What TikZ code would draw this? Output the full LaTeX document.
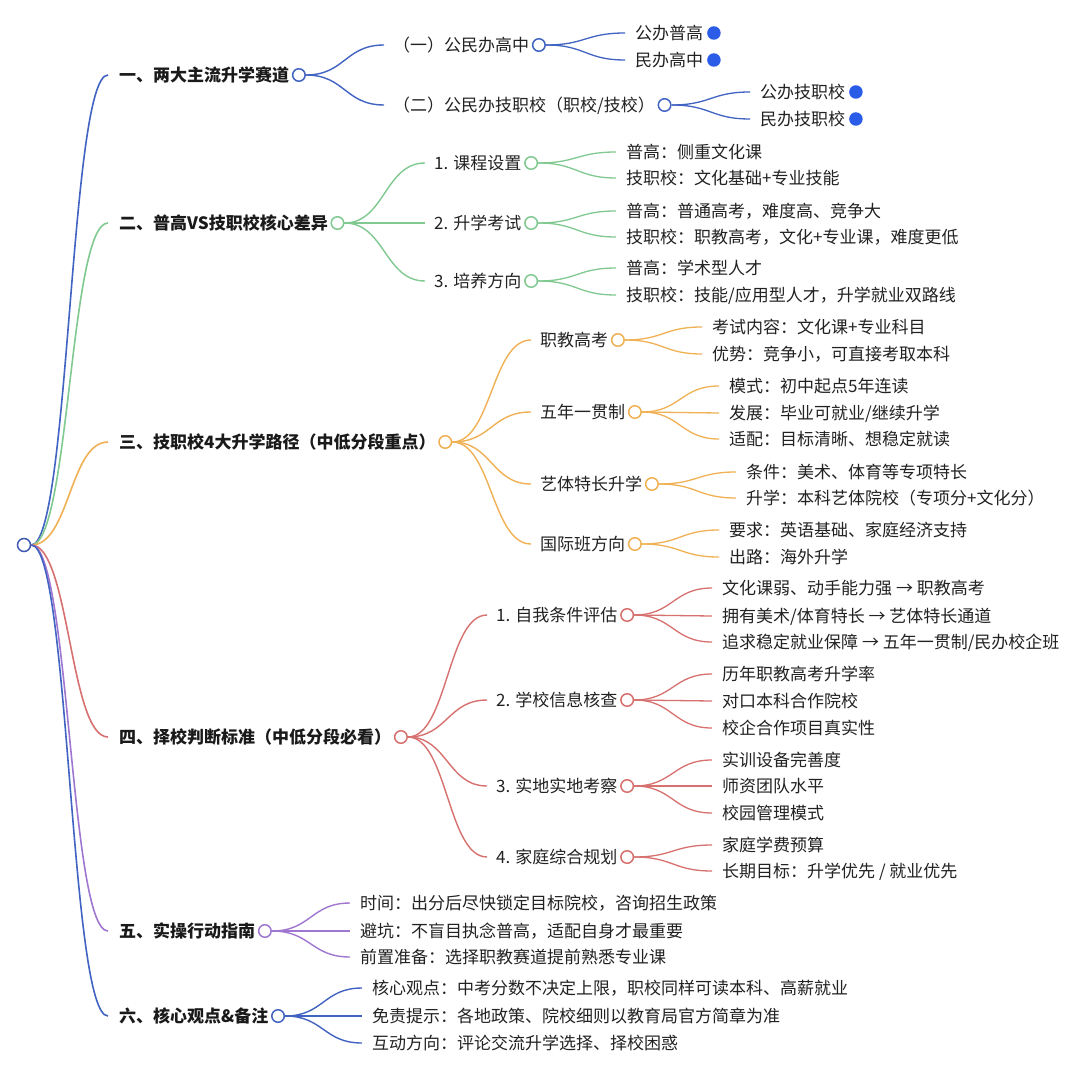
\documentclass[tikz,border=0pt]{standalone}
\usepackage{fontspec}
\setmainfont{Noto Sans CJK SC}
\usetikzlibrary{calc}
\definecolor{cblue}{HTML}{4163C2}
\definecolor{crootc}{HTML}{3F59B3}
\definecolor{cgreen}{HTML}{80C990}
\definecolor{corange}{HTML}{F0B155}
\definecolor{cred}{HTML}{D7716F}
\definecolor{cpurple}{HTML}{A077D0}
\definecolor{cdot}{HTML}{2B5CE8}
\definecolor{txtc}{HTML}{222222}
\definecolor{boldc}{HTML}{1A1A1A}
\pgfdeclarelayer{bg}
\pgfsetlayers{bg,main}
\tikzset{
  txt/.style={anchor=west, inner sep=0pt, text height=15pt, text depth=2pt,
    font=\fontsize{17pt}{20pt}\selectfont, text=txtc},
  ltxt/.style={anchor=west, inner sep=0pt, text height=15pt, text depth=2pt,
    font=\fontsize{17pt}{20pt}\selectfont\bfseries, text=boldc},
  hc/.style={circle, draw=#1, fill=white, line width=1.5pt, minimum size=12.5pt, inner sep=0pt},
  dotc/.style={circle, fill=cdot, minimum size=13.5pt, inner sep=0pt},
  lk/.style={draw=#1, line width=1.4pt},
  lk0/.style={draw=#1, line width=1.6pt},
  lk2/.style={draw=#1, line width=1.3pt},
}
\newcommand\mlink[3]{\begin{pgfonlayer}{bg}\draw[#1] let \p1=(#2), \p2=(#3) in (\p1) .. controls ({(\x1+\x2)/2},\y1) and ({(\x1+\x2)/2},\y2) .. (\p2);\end{pgfonlayer}}
\begin{document}
\begin{tikzpicture}[x=1pt,y=-1pt]
\begin{pgfonlayer}{bg}
\fill[white] (0,0) rectangle (1080,1083);
\end{pgfonlayer}
\useasboundingbox (0,0) rectangle (1080,1083);

\node[hc=crootc, minimum size=13pt] (root) at (24,545) {};

% ---------- branch 1 ----------
\node[ltxt] (a) at (119,75) {一、两大主流升学赛道};
\node[hc=cblue] (ac) at ([xshift=9.5pt]a.east) {};
\node[txt] (a1) at (393,45) {（一）公民办高中};
\node[hc=cblue] (a1c) at ([xshift=9.5pt]a1.east) {};
\node[txt] (a2) at (393,105) {（二）公民办技职校（职校/技校）};
\node[hc=cblue] (a2c) at ([xshift=9.5pt]a2.east) {};
\node[txt] (a11) at (635,33) {公办普高};
\node[dotc] (a11d) at ([xshift=10.5pt]a11.east) {};
\node[txt] (a12) at (635,60) {民办高中};
\node[dotc] (a12d) at ([xshift=10.5pt]a12.east) {};
\node[txt] (a21) at (760,92) {公办技职校};
\node[dotc] (a21d) at ([xshift=10.5pt]a21.east) {};
\node[txt] (a22) at (760,119) {民办技职校};
\node[dotc] (a22d) at ([xshift=10.5pt]a22.east) {};
\mlink{lk0=cblue}{root.east}{[xshift=-11pt]a.west}
\mlink{lk=cblue}{ac.east}{[xshift=-9pt]a1.west}
\mlink{lk=cblue}{ac.east}{[xshift=-9pt]a2.west}
\mlink{lk2=cblue}{a1c.east}{[xshift=-10pt]a11.west}
\mlink{lk2=cblue}{a1c.east}{[xshift=-10pt]a12.west}
\mlink{lk2=cblue}{a2c.east}{[xshift=-10pt]a21.west}
\mlink{lk2=cblue}{a2c.east}{[xshift=-10pt]a22.west}

% ---------- branch 2 ----------
\node[ltxt] (b) at (119,223) {二、普高VS技职校核心差异};
\node[hc=cgreen] (bc) at ([xshift=9.5pt]b.east) {};
\node[txt] (b1) at (434,163) {1. 课程设置};
\node[hc=cgreen] (b1c) at ([xshift=9.5pt]b1.east) {};
\node[txt] (b2) at (434,223) {2. 升学考试};
\node[hc=cgreen] (b2c) at ([xshift=9.5pt]b2.east) {};
\node[txt] (b3) at (434,281) {3. 培养方向};
\node[hc=cgreen] (b3c) at ([xshift=9.5pt]b3.east) {};
\node[txt] (b11) at (626,152) {普高：侧重文化课};
\node[txt] (b12) at (626,178) {技职校：文化基础+专业技能};
\node[txt] (b21) at (626,211) {普高：普通高考，难度高、竞争大};
\node[txt] (b22) at (626,237) {技职校：职教高考，文化+专业课，难度更低};
\node[txt] (b31) at (626,268) {普高：学术型人才};
\node[txt] (b32) at (626,295) {技职校：技能/应用型人才，升学就业双路线};
\mlink{lk0=cgreen}{root.east}{[xshift=-11pt]b.west}
\mlink{lk=cgreen}{bc.east}{[xshift=-9pt]b1.west}
\mlink{lk=cgreen}{bc.east}{[xshift=-9pt]b2.west}
\mlink{lk=cgreen}{bc.east}{[xshift=-9pt]b3.west}
\mlink{lk2=cgreen}{b1c.east}{[xshift=-10pt]b11.west}
\mlink{lk2=cgreen}{b1c.east}{[xshift=-10pt]b12.west}
\mlink{lk2=cgreen}{b2c.east}{[xshift=-10pt]b21.west}
\mlink{lk2=cgreen}{b2c.east}{[xshift=-10pt]b22.west}
\mlink{lk2=cgreen}{b3c.east}{[xshift=-10pt]b31.west}
\mlink{lk2=cgreen}{b3c.east}{[xshift=-10pt]b32.west}

% ---------- branch 3 ----------
\node[ltxt] (c) at (119,442) {三、技职校4大升学路径（中低分段重点）};
\node[hc=corange] (cc) at ([xshift=9.5pt]c.east) {};
\node[txt] (c1) at (540,340) {职教高考};
\node[hc=corange] (c1c) at ([xshift=9.5pt]c1.east) {};
\node[txt] (c2) at (540,412) {五年一贯制};
\node[hc=corange] (c2c) at ([xshift=9.5pt]c2.east) {};
\node[txt] (c3) at (540,484) {艺体特长升学};
\node[hc=corange] (c3c) at ([xshift=9.5pt]c3.east) {};
\node[txt] (c4) at (540,544) {国际班方向};
\node[hc=corange] (c4c) at ([xshift=9.5pt]c4.east) {};
\node[txt] (c11) at (712,327) {考试内容：文化课+专业科目};
\node[txt] (c12) at (712,354) {优势：竞争小，可直接考取本科};
\node[txt] (c21) at (729,386) {模式：初中起点5年连读};
\node[txt] (c22) at (729,413) {发展：毕业可就业/继续升学};
\node[txt] (c23) at (729,439) {适配：目标清晰、想稳定就读};
\node[txt] (c31) at (746,472) {条件：美术、体育等专项特长};
\node[txt] (c32) at (746,498) {升学：本科艺体院校（专项分+文化分）};
\node[txt] (c41) at (729,530) {要求：英语基础、家庭经济支持};
\node[txt] (c42) at (729,557) {出路：海外升学};
\mlink{lk0=corange}{root.east}{[xshift=-11pt]c.west}
\mlink{lk=corange}{cc.east}{[xshift=-9pt]c1.west}
\mlink{lk=corange}{cc.east}{[xshift=-9pt]c2.west}
\mlink{lk=corange}{cc.east}{[xshift=-9pt]c3.west}
\mlink{lk=corange}{cc.east}{[xshift=-9pt]c4.west}
\mlink{lk2=corange}{c1c.east}{[xshift=-10pt]c11.west}
\mlink{lk2=corange}{c1c.east}{[xshift=-10pt]c12.west}
\mlink{lk2=corange}{c2c.east}{[xshift=-10pt]c21.west}
\mlink{lk2=corange}{c2c.east}{[xshift=-10pt]c22.west}
\mlink{lk2=corange}{c2c.east}{[xshift=-10pt]c23.west}
\mlink{lk2=corange}{c3c.east}{[xshift=-10pt]c31.west}
\mlink{lk2=corange}{c3c.east}{[xshift=-10pt]c32.west}
\mlink{lk2=corange}{c4c.east}{[xshift=-10pt]c41.west}
\mlink{lk2=corange}{c4c.east}{[xshift=-10pt]c42.west}

% ---------- branch 4 ----------
\node[ltxt] (d) at (119,737) {四、择校判断标准（中低分段必看）};
\node[hc=cred] (dc) at ([xshift=9.5pt]d.east) {};
\node[txt] (d1) at (496,615) {1. 自我条件评估};
\node[hc=cred] (d1c) at ([xshift=9.5pt]d1.east) {};
\node[txt] (d2) at (496,700) {2. 学校信息核查};
\node[hc=cred] (d2c) at ([xshift=9.5pt]d2.east) {};
\node[txt] (d3) at (496,786) {3. 实地实地考察};
\node[hc=cred] (d3c) at ([xshift=9.5pt]d3.east) {};
\node[txt] (d4) at (496,857) {4. 家庭综合规划};
\node[hc=cred] (d4c) at ([xshift=9.5pt]d4.east) {};
\node[txt] (d11) at (722,588) {文化课弱、动手能力强 → 职教高考};
\node[txt] (d12) at (722,616) {拥有美术/体育特长 → 艺体特长通道};
\node[txt] (d13) at (722,642) {追求稳定就业保障 → 五年一贯制/民办校企班};
\node[txt] (d21) at (722,674) {历年职教高考升学率};
\node[txt] (d22) at (722,701) {对口本科合作院校};
\node[txt] (d23) at (722,728) {校企合作项目真实性};
\node[txt] (d31) at (722,760) {实训设备完善度};
\node[txt] (d32) at (722,786) {师资团队水平};
\node[txt] (d33) at (722,813) {校园管理模式};
\node[txt] (d41) at (722,845) {家庭学费预算};
\node[txt] (d42) at (722,871) {长期目标：升学优先 / 就业优先};
\mlink{lk0=cred}{root.east}{[xshift=-11pt]d.west}
\mlink{lk=cred}{dc.east}{[xshift=-9pt]d1.west}
\mlink{lk=cred}{dc.east}{[xshift=-9pt]d2.west}
\mlink{lk=cred}{dc.east}{[xshift=-9pt]d3.west}
\mlink{lk=cred}{dc.east}{[xshift=-9pt]d4.west}
\mlink{lk2=cred}{d1c.east}{[xshift=-10pt]d11.west}
\mlink{lk2=cred}{d1c.east}{[xshift=-10pt]d12.west}
\mlink{lk2=cred}{d1c.east}{[xshift=-10pt]d13.west}
\mlink{lk2=cred}{d2c.east}{[xshift=-10pt]d21.west}
\mlink{lk2=cred}{d2c.east}{[xshift=-10pt]d22.west}
\mlink{lk2=cred}{d2c.east}{[xshift=-10pt]d23.west}
\mlink{lk2=cred}{d3c.east}{[xshift=-10pt]d31.west}
\mlink{lk2=cred}{d3c.east}{[xshift=-10pt]d32.west}
\mlink{lk2=cred}{d3c.east}{[xshift=-10pt]d33.west}
\mlink{lk2=cred}{d4c.east}{[xshift=-10pt]d41.west}
\mlink{lk2=cred}{d4c.east}{[xshift=-10pt]d42.west}

% ---------- branch 5 ----------
\node[ltxt] (e) at (119,931) {五、实操行动指南};
\node[hc=cpurple] (ec) at ([xshift=9.5pt]e.east) {};
\node[txt] (e1) at (360,903) {时间：出分后尽快锁定目标院校，咨询招生政策};
\node[txt] (e2) at (360,931) {避坑：不盲目执念普高，适配自身才最重要};
\node[txt] (e3) at (360,957) {前置准备：选择职教赛道提前熟悉专业课};
\mlink{lk0=cpurple}{root.east}{[xshift=-11pt]e.west}
\mlink{lk=cpurple}{ec.east}{[xshift=-10pt]e1.west}
\mlink{lk=cpurple}{ec.east}{[xshift=-10pt]e2.west}
\mlink{lk=cpurple}{ec.east}{[xshift=-10pt]e3.west}

% ---------- branch 6 ----------
\node[ltxt] (f) at (119,1016) {六、核心观点\&备注};
\node[hc=cblue] (fc) at ([xshift=9.5pt]f.east) {};
\node[txt] (f1) at (372,988) {核心观点：中考分数不决定上限，职校同样可读本科、高薪就业};
\node[txt] (f2) at (372,1016) {免责提示：各地政策、院校细则以教育局官方简章为准};
\node[txt] (f3) at (372,1043) {互动方向：评论交流升学选择、择校困惑};
\mlink{lk0=cblue}{root.east}{[xshift=-11pt]f.west}
\mlink{lk=cblue}{fc.east}{[xshift=-10pt]f1.west}
\mlink{lk=cblue}{fc.east}{[xshift=-10pt]f2.west}
\mlink{lk=cblue}{fc.east}{[xshift=-10pt]f3.west}
\end{tikzpicture}
\end{document}
